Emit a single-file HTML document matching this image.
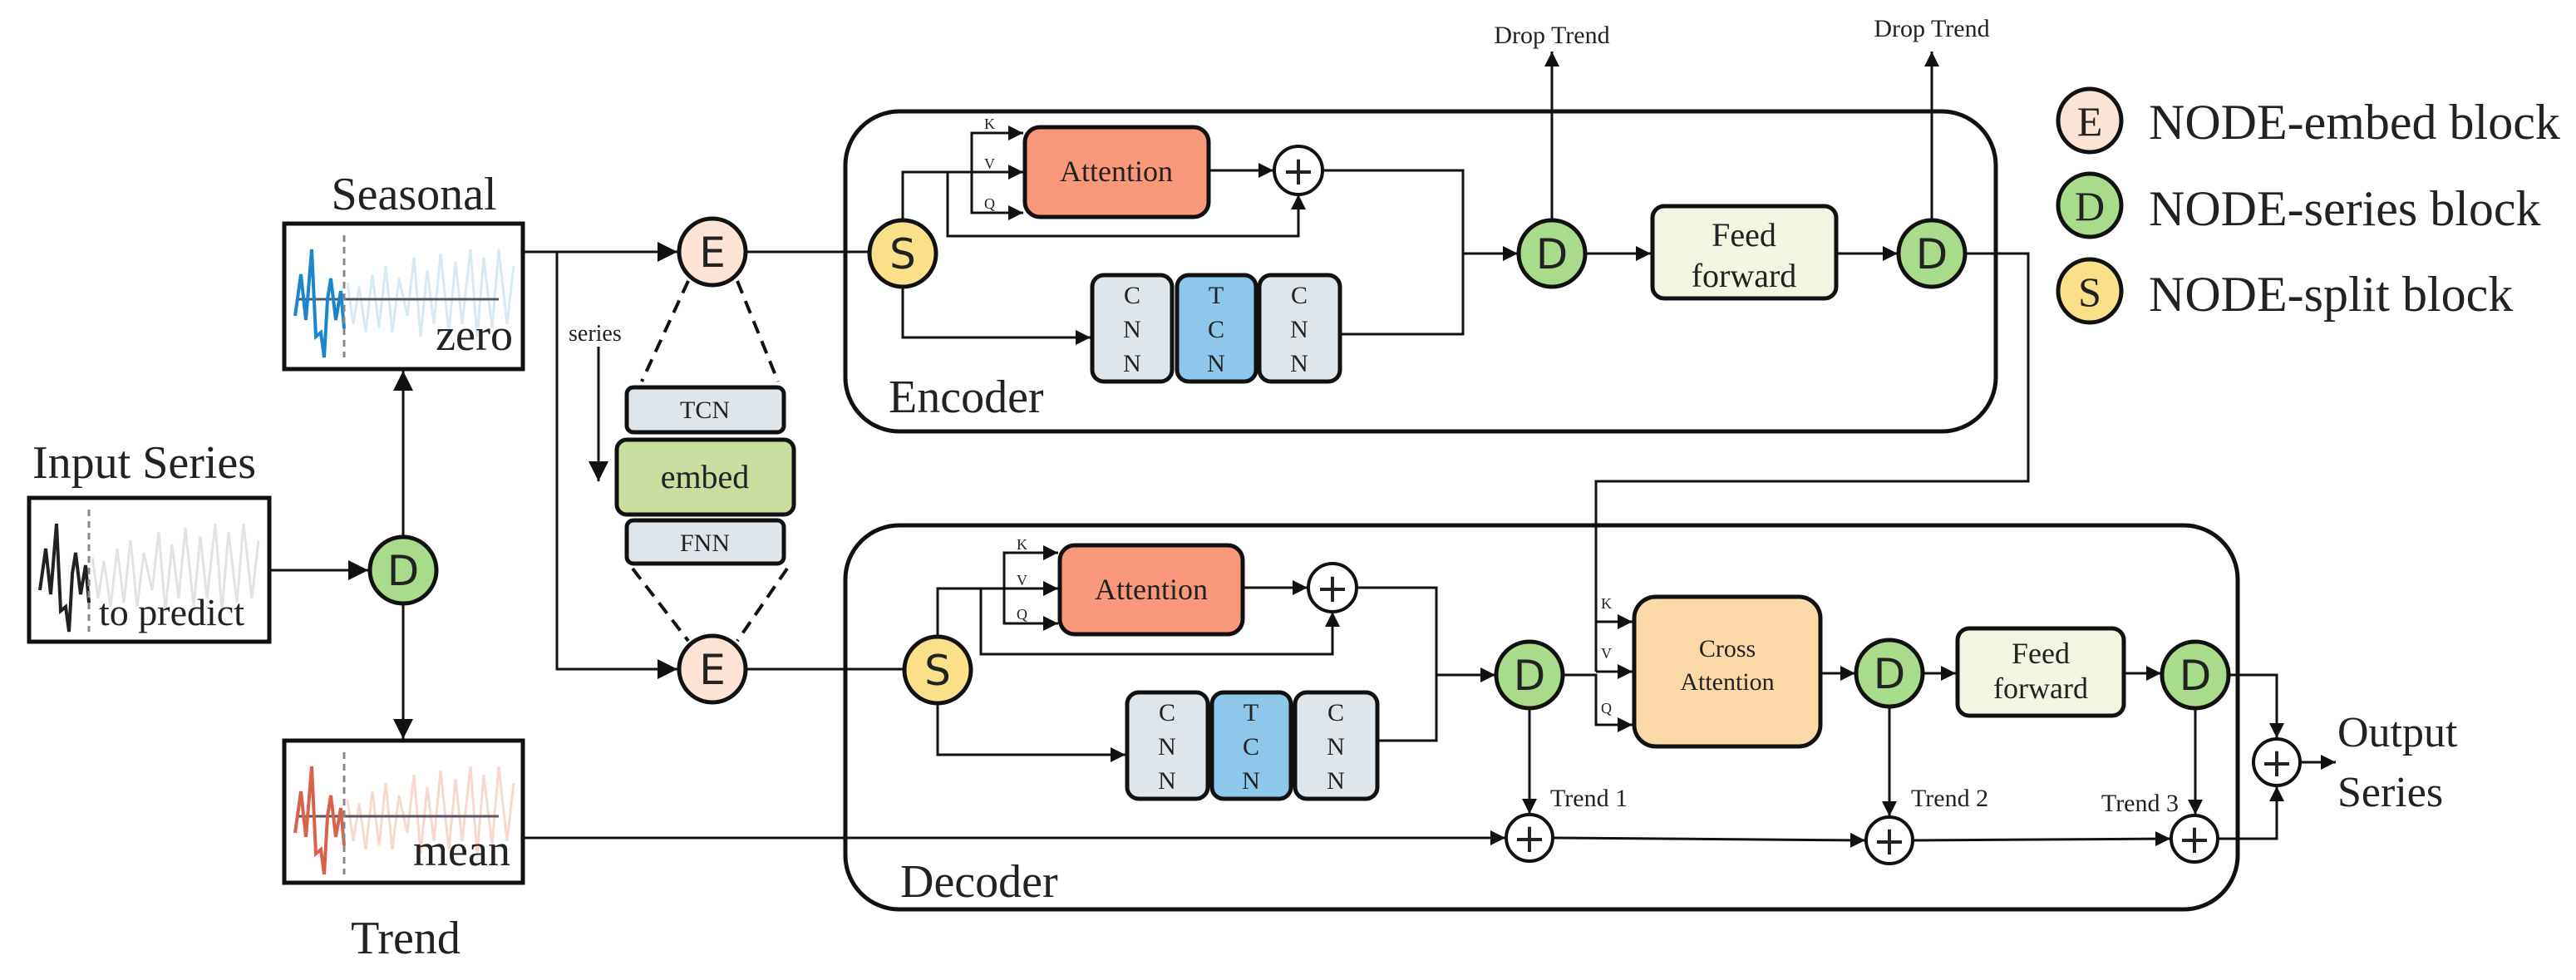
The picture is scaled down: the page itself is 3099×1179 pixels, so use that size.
<!DOCTYPE html>
<html><head><meta charset="utf-8"><style>
html,body{margin:0;padding:0;background:#fff;}
svg{display:block;}
text{font-family:"Liberation Serif","Times New Roman",serif;fill:#222;}
text.s{font-family:"DejaVu Sans","Liberation Sans",sans-serif;}
</style></head><body>
<svg width="3099" height="1179" viewBox="0 0 3099 1179" xmlns="http://www.w3.org/2000/svg" font-family="Liberation Serif, serif" style="font-family:'Liberation Serif',serif">
<defs>
<marker id="a" markerUnits="userSpaceOnUse" markerWidth="26" markerHeight="24" refX="24" refY="12" orient="auto">
<path d="M0,0 L24,12 L0,24 z" fill="#111"/></marker>
<marker id="b" markerUnits="userSpaceOnUse" markerWidth="20" markerHeight="18" refX="18" refY="9" orient="auto">
<path d="M0,0 L18,9 L0,18 z" fill="#111"/></marker>
<g id="wv">
<polyline fill="none" stroke-width="3" points="418,340 425,390 432,345 440,400 448,330 456,395 464,320 472,400 480,335 490,380 498,310 506,405 514,325 522,390 530,305 540,400 548,315 556,390 566,300 574,405 582,310 592,395 600,300 610,390 618,320"/>
</g>
</defs>
<g stroke="#111" fill="none">
<rect x="35" y="599" width="289" height="173" stroke-width="5" fill="#fff"/>
<rect x="342" y="269" width="287" height="175" stroke-width="5" fill="#fff"/>
<rect x="342" y="891" width="287" height="171" stroke-width="5" fill="#fff"/>
</g>
<g stroke="#d9e9f2"><use href="#wv"/></g>
<line x1="357" y1="360" x2="600" y2="360" stroke="#556" stroke-width="3"/>
<polyline fill="none" stroke="#1a86cc" stroke-width="4" points="355,380 362,330 368,385 375,300 380,405 386,400 390,430 394,360 398,335 404,385 410,350 414,395"/>
<line x1="414" y1="283" x2="414" y2="430" stroke="#888" stroke-width="3" stroke-dasharray="8,6"/>
<g transform="translate(0,622)"><g stroke="#f7d8cf"><use href="#wv"/></g>
<line x1="357" y1="360" x2="600" y2="360" stroke="#556" stroke-width="3"/>
<polyline fill="none" stroke="#d9634a" stroke-width="4" points="355,380 362,330 368,385 375,300 380,405 386,400 390,430 394,360 398,335 404,385 410,350 414,395"/>
<line x1="414" y1="283" x2="414" y2="430" stroke="#888" stroke-width="3" stroke-dasharray="8,6"/></g>
<g transform="translate(-307,330)"><g stroke="#e2e2e2"><use href="#wv"/></g>
<polyline fill="none" stroke="#222" stroke-width="4" points="355,380 362,330 368,385 375,300 380,405 386,400 390,430 394,360 398,335 404,385 410,350 414,395"/>
<line x1="414" y1="283" x2="414" y2="430" stroke="#888" stroke-width="3" stroke-dasharray="8,6"/></g>
<g style="font-family:'Liberation Serif',serif">
<text x="39" y="575" font-size="56">Input Series</text>
<text x="498" y="252" font-size="56" text-anchor="middle">Seasonal</text>
<text x="488" y="1147" font-size="56" text-anchor="middle">Trend</text>
<text x="617" y="421" font-size="54" text-anchor="end">zero</text>
<text x="614" y="1041" font-size="54" text-anchor="end">mean</text>
<text x="119" y="752" font-size="46">to predict</text>
</g>

<g stroke="#111" fill="none" stroke-width="5">
<rect x="1017" y="134" width="1384" height="385" rx="65"/>
<rect x="1017" y="632" width="1675" height="462" rx="65"/>
</g>

<g stroke="#111" stroke-width="3" fill="none">
<line x1="324" y1="686" x2="443" y2="686" marker-end="url(#a)"/>
<line x1="485" y1="646" x2="485" y2="446" marker-end="url(#a)"/>
<line x1="485" y1="726" x2="485" y2="889" marker-end="url(#a)"/>
<line x1="629" y1="303" x2="815" y2="303" marker-end="url(#a)"/>
<polyline points="670,303 670,805 815,805" marker-end="url(#a)"/>
<line x1="720" y1="417" x2="720" y2="579" marker-end="url(#a)"/>
<line x1="897" y1="303" x2="1046" y2="303"/>
<line x1="897" y1="805" x2="1088" y2="805"/>
<g stroke-dasharray="16,10" stroke-width="4">
<line x1="828" y1="338" x2="772" y2="459"/><line x1="887" y1="338" x2="936" y2="459"/>
<line x1="761" y1="684" x2="828" y2="771"/><line x1="947" y1="684" x2="887" y2="771"/>
</g>
<polyline points="1086,265 1086,207 1231,207" marker-end="url(#b)"/>
<polyline points="1169,207 1169,160 1231,160" marker-end="url(#b)"/>
<polyline points="1169,207 1169,256 1231,256" marker-end="url(#b)"/>
<polyline points="1140,207 1140,284 1562,284 1562,234" marker-end="url(#b)"/>
<line x1="1455" y1="205" x2="1532" y2="205" marker-end="url(#b)"/>
<polyline points="1591,205 1760,205 1760,402 1614,402"/>
<polyline points="1086,345 1086,406 1312,406" marker-end="url(#b)"/>
<line x1="1760" y1="305" x2="1826" y2="305" marker-end="url(#b)"/>
<line x1="1906" y1="305" x2="1986" y2="305" marker-end="url(#b)"/>
<line x1="2209" y1="305" x2="2283" y2="305" marker-end="url(#b)"/>
<line x1="1867" y1="265" x2="1867" y2="62" marker-end="url(#b)"/>
<line x1="2324" y1="265" x2="2324" y2="62" marker-end="url(#b)"/>
<polyline points="2364,305 2440,305 2440,579 1920,579 1920,808"/>
<line x1="1920" y1="748" x2="1964" y2="748" marker-end="url(#b)"/>
<line x1="1920" y1="808" x2="1964" y2="808" marker-end="url(#b)"/>
<polyline points="1128,766 1128,708 1273,708" marker-end="url(#b)"/>
<polyline points="1208,708 1208,665 1273,665" marker-end="url(#b)"/>
<polyline points="1208,708 1208,750 1273,750" marker-end="url(#b)"/>
<polyline points="1180,708 1180,787 1603,787 1603,736" marker-end="url(#b)"/>
<line x1="1495" y1="707" x2="1573" y2="707" marker-end="url(#b)"/>
<polyline points="1632,707 1728,707 1728,891 1657,891"/>
<polyline points="1128,846 1128,908 1354,908" marker-end="url(#b)"/>
<line x1="1728" y1="812" x2="1799" y2="812" marker-end="url(#b)"/>
<polyline points="1880,812 1920,812 1920,872 1964,872" marker-end="url(#b)"/>
<line x1="2190" y1="810" x2="2232" y2="810" marker-end="url(#b)"/>
<line x1="2313" y1="810" x2="2353" y2="810" marker-end="url(#b)"/>
<line x1="2555" y1="810" x2="2600" y2="810" marker-end="url(#b)"/>
<line x1="1840" y1="852" x2="1840" y2="979" marker-end="url(#b)"/>
<line x1="2273" y1="850" x2="2273" y2="982" marker-end="url(#b)"/>
<line x1="2641" y1="852" x2="2641" y2="980" marker-end="url(#b)"/>
<line x1="629" y1="1008" x2="1811" y2="1008" marker-end="url(#b)"/>
<line x1="1869" y1="1008" x2="2244" y2="1011" marker-end="url(#b)"/>
<line x1="2302" y1="1011" x2="2611" y2="1009" marker-end="url(#b)"/>
<polyline points="2681,812 2739,812 2739,888" marker-end="url(#b)"/>
<polyline points="2669,1009 2739,1009 2739,946" marker-end="url(#b)"/>
<line x1="2768" y1="917" x2="2810" y2="917" marker-end="url(#b)"/>
</g>

<g stroke="#111" stroke-width="5">
<rect x="754" y="466" width="189" height="54" rx="8" fill="#dfe6eb"/>
<rect x="742" y="529" width="213" height="90" rx="12" fill="#c9dd9f"/>
<rect x="754" y="626" width="189" height="52" rx="8" fill="#dfe6eb"/>
</g>
<g style="font-family:'Liberation Serif',serif">
<text x="848" y="503" font-size="30" text-anchor="middle" fill="#444">TCN</text>
<text x="848" y="587" font-size="40" text-anchor="middle">embed</text>
<text x="848" y="663" font-size="30" text-anchor="middle" fill="#444">FNN</text>
<text x="684" y="410" font-size="28" fill="#444">series</text>
</g>

<g stroke="#111" stroke-width="5">
<rect x="1233" y="153" width="221" height="108" rx="18" fill="#f9997a"/>
<rect x="1275" y="656" width="220" height="107" rx="18" fill="#f9997a"/>
<rect x="1314" y="331" width="96" height="128" rx="14" fill="#dfe6eb"/>
<rect x="1416" y="331" width="95" height="128" rx="14" fill="#8dc8eb"/>
<rect x="1515" y="331" width="97" height="128" rx="14" fill="#dfe6eb"/>
<rect x="1356" y="833" width="97" height="128" rx="14" fill="#dfe6eb"/>
<rect x="1458" y="833" width="95" height="128" rx="14" fill="#8dc8eb"/>
<rect x="1558" y="833" width="99" height="128" rx="14" fill="#dfe6eb"/>
<rect x="1988" y="248" width="221" height="111" rx="14" fill="#f3f5e3"/>
<rect x="2355" y="756" width="200" height="105" rx="14" fill="#f3f5e3"/>
<rect x="1966" y="718" width="224" height="180" rx="26" fill="#fdd9a8"/>
</g>
<g font-size="30" text-anchor="middle" fill="#333" style="font-family:'Liberation Serif',serif">
<text x="1343" y="218" font-size="36">Attention</text>
<text x="1385" y="721" font-size="36">Attention</text>
<text x="2078" y="790">Cross</text><text x="2078" y="830">Attention</text>
<text x="2098" y="296" font-size="40">Feed</text><text x="2098" y="345" font-size="40">forward</text>
<text x="2455" y="798" font-size="36">Feed</text><text x="2455" y="840" font-size="36">forward</text>
</g>
<g font-size="30" text-anchor="middle" fill="#444" style="font-family:'Liberation Serif',serif">
<text x="1362" y="365">C</text><text x="1362" y="406">N</text><text x="1362" y="447">N</text>
<text x="1463" y="365">T</text><text x="1463" y="406">C</text><text x="1463" y="447">N</text>
<text x="1563" y="365">C</text><text x="1563" y="406">N</text><text x="1563" y="447">N</text>
<text x="1404" y="867">C</text><text x="1404" y="908">N</text><text x="1404" y="949">N</text>
<text x="1505" y="867">T</text><text x="1505" y="908">C</text><text x="1505" y="949">N</text>
<text x="1607" y="867">C</text><text x="1607" y="908">N</text><text x="1607" y="949">N</text>
</g>
<g font-size="18" fill="#333" style="font-family:'Liberation Serif',serif">
<text x="1184" y="155">K</text><text x="1184" y="203">V</text><text x="1184" y="251">Q</text>
<text x="1223" y="661">K</text><text x="1223" y="704">V</text><text x="1223" y="745">Q</text>
<text x="1926" y="732">K</text><text x="1926" y="792">V</text><text x="1926" y="858">Q</text>
</g>
<g font-size="30" fill="#333" style="font-family:'Liberation Serif',serif">
<text x="1867" y="52" text-anchor="middle">Drop Trend</text>
<text x="2324" y="44" text-anchor="middle">Drop Trend</text>
<text x="1865" y="970">Trend 1</text>
<text x="2299" y="970">Trend 2</text>
<text x="2621" y="976" text-anchor="end">Trend 3</text>
</g>
<g style="font-family:'Liberation Serif',serif">
<text x="1069" y="496" font-size="56">Encoder</text>
<text x="1083" y="1079" font-size="56">Decoder</text>
<text x="2812" y="898" font-size="52">Output</text>
<text x="2812" y="970" font-size="52">Series</text>
</g>

<g stroke="#111" stroke-width="4" fill="#fff">
<circle cx="1562" cy="205" r="29"/><circle cx="1603" cy="707" r="29"/>
<circle cx="1840" cy="1008" r="28"/><circle cx="2273" cy="1011" r="28"/>
<circle cx="2640" cy="1009" r="28"/><circle cx="2739" cy="917" r="28"/>
</g>
<g font-size="48" text-anchor="middle">
<text class="s" x="1562" y="222">+</text><text class="s" x="1603" y="724">+</text>
<text class="s" x="1840" y="1025">+</text><text class="s" x="2273" y="1028">+</text>
<text class="s" x="2640" y="1026">+</text><text class="s" x="2739" y="934">+</text>
</g>

<g stroke="#111" stroke-width="5">
<circle cx="485" cy="686" r="40" fill="#a8dc8a"/>
<circle cx="857" cy="303" r="40" fill="#fbe3d6"/>
<circle cx="857" cy="805" r="40" fill="#fbe3d6"/>
<circle cx="1086" cy="305" r="40" fill="#fbe08a"/>
<circle cx="1128" cy="806" r="40" fill="#fbe08a"/>
<circle cx="1867" cy="305" r="40" fill="#a8dc8a"/>
<circle cx="2324" cy="305" r="40" fill="#a8dc8a"/>
<circle cx="1840" cy="812" r="40" fill="#a8dc8a"/>
<circle cx="2273" cy="810" r="40" fill="#a8dc8a"/>
<circle cx="2641" cy="812" r="40" fill="#a8dc8a"/>
<ellipse cx="2514" cy="145" rx="38" ry="38" fill="#fbe3d6"/>
<ellipse cx="2514" cy="247" rx="38" ry="38" fill="#a8dc8a"/>
<ellipse cx="2514" cy="350" rx="38" ry="38" fill="#fbe08a"/>
</g>
<g font-size="50" text-anchor="middle">
<text class="s" x="485" y="704">D</text>
<text class="s" x="857" y="321">E</text><text class="s" x="857" y="823">E</text>
<text class="s" x="1086" y="323">S</text><text class="s" x="1128" y="824">S</text>
<text class="s" x="1867" y="323">D</text><text class="s" x="2324" y="323">D</text>
<text class="s" x="1840" y="830">D</text><text class="s" x="2273" y="828">D</text><text class="s" x="2641" y="830">D</text>
<text x="2514" y="163" style="font-family:'Liberation Serif',serif">E</text><text x="2514" y="265" style="font-family:'Liberation Serif',serif">D</text><text x="2514" y="368" style="font-family:'Liberation Serif',serif">S</text>
</g>
<g font-size="60" style="font-family:'Liberation Serif',serif">
<text x="2585" y="167">NODE-embed block</text>
<text x="2585" y="271">NODE-series block</text>
<text x="2585" y="374">NODE-split block</text>
</g>
</svg>
</body></html>
